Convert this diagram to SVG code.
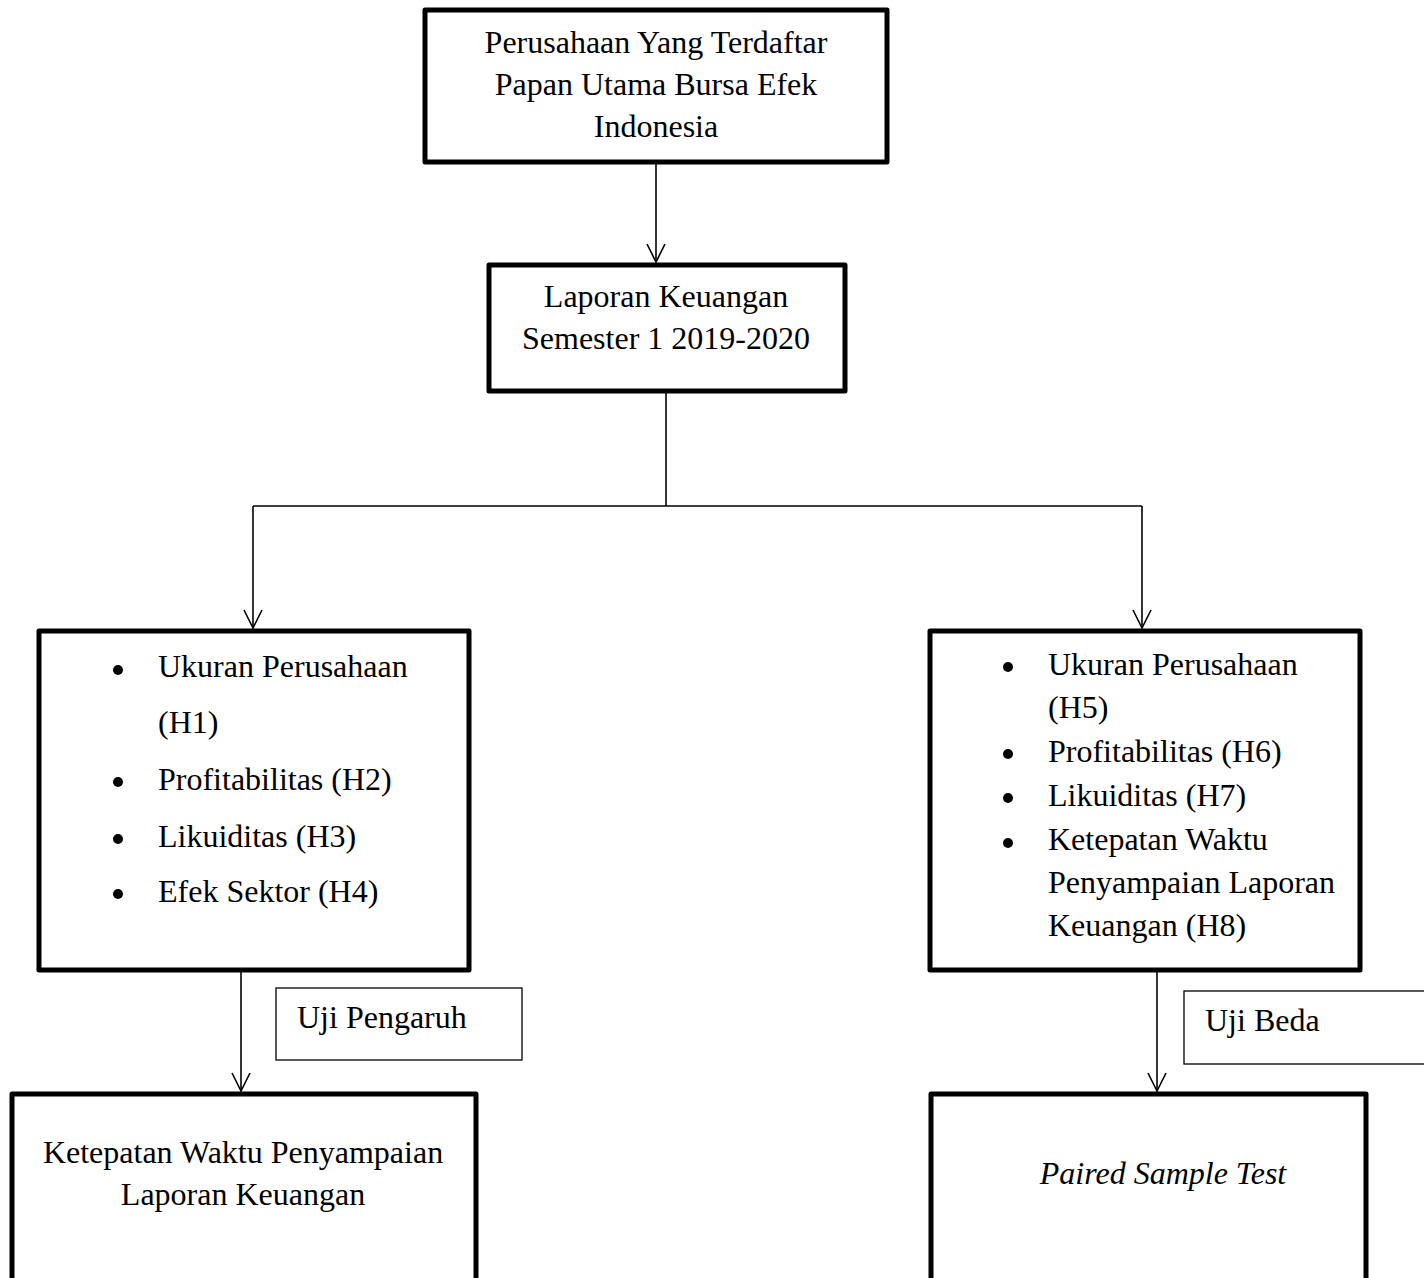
<svg xmlns="http://www.w3.org/2000/svg" width="1424" height="1278" viewBox="0 0 1424 1278">
<style>
.box{fill:#fff;stroke:#000;stroke-width:5;stroke-linejoin:round}
.lbl{fill:#fff;stroke:#000;stroke-width:1.3}
.t{font-family:"Liberation Serif","Times New Roman",serif;font-size:32px;fill:#000}
.c{text-anchor:middle}
.i{font-style:italic}
.con{fill:none;stroke:#000;stroke-width:1.6}
</style>
<defs>
<marker id="arr" markerUnits="userSpaceOnUse" markerWidth="24" markerHeight="24" viewBox="-20 -12 24 24" refX="0" refY="0" orient="auto">
<path d="M-18,-9 L0,0 L-18,9" fill="none" stroke="#000" stroke-width="1.6"/>
</marker>
</defs>
<rect width="1424" height="1278" fill="#fff"/>
<g id="connectors">
<line class="con" x1="656" y1="163" x2="656" y2="262" marker-end="url(#arr)"/>
<polyline class="con" points="666,391 666,506"/>
<line class="con" x1="253" y1="506" x2="1142" y2="506"/>
<line class="con" x1="253" y1="506" x2="253" y2="628" marker-end="url(#arr)"/>
<line class="con" x1="1142" y1="506" x2="1142" y2="628" marker-end="url(#arr)"/>
<line class="con" x1="241" y1="971" x2="241" y2="1091" marker-end="url(#arr)"/>
<line class="con" x1="1157" y1="971" x2="1157" y2="1091" marker-end="url(#arr)"/>
</g>
<g id="node-perusahaan">
<rect class="box" x="425" y="10" width="462" height="152"/>
<text class="t c" x="656" y="53">Perusahaan Yang Terdaftar</text>
<text class="t c" x="656" y="95">Papan Utama Bursa Efek</text>
<text class="t c" x="656" y="137">Indonesia</text>
</g>
<g id="node-laporan">
<rect class="box" x="489" y="265" width="356" height="126"/>
<text class="t c" x="666" y="307">Laporan Keuangan</text>
<text class="t c" x="666" y="349">Semester 1 2019-2020</text>
</g>
<g id="node-left-vars">
<rect class="box" x="39" y="631" width="430" height="339"/>
<circle cx="118" cy="670" r="5"/>
<circle cx="118" cy="782" r="5"/>
<circle cx="118" cy="839" r="5"/>
<circle cx="118" cy="894" r="5"/>
<text class="t" x="158" y="677">Ukuran Perusahaan</text>
<text class="t" x="158" y="733">(H1)</text>
<text class="t" x="158" y="790">Profitabilitas (H2)</text>
<text class="t" x="158" y="847">Likuiditas (H3)</text>
<text class="t" x="158" y="902">Efek Sektor (H4)</text>
</g>
<g id="node-right-vars">
<rect class="box" x="930" y="631" width="430" height="339"/>
<circle cx="1008" cy="667" r="5"/>
<circle cx="1008" cy="754" r="5"/>
<circle cx="1008" cy="798" r="5"/>
<circle cx="1008" cy="843" r="5"/>
<text class="t" x="1048" y="675">Ukuran Perusahaan</text>
<text class="t" x="1048" y="718">(H5)</text>
<text class="t" x="1048" y="762">Profitabilitas (H6)</text>
<text class="t" x="1048" y="806">Likuiditas (H7)</text>
<text class="t" x="1048" y="850">Ketepatan Waktu</text>
<text class="t" x="1048" y="893">Penyampaian Laporan</text>
<text class="t" x="1048" y="936">Keuangan (H8)</text>
</g>
<g id="label-uji-pengaruh">
<rect class="lbl" x="276" y="988" width="246" height="72"/>
<text class="t" x="297" y="1028">Uji Pengaruh</text>
</g>
<g id="label-uji-beda">
<rect class="lbl" x="1184" y="991" width="250" height="73"/>
<text class="t" x="1205" y="1031">Uji Beda</text>
</g>
<g id="node-ketepatan">
<rect class="box" x="12" y="1094" width="464" height="200"/>
<text class="t c" x="243" y="1163">Ketepatan Waktu Penyampaian</text>
<text class="t c" x="243" y="1205">Laporan Keuangan</text>
</g>
<g id="node-paired">
<rect class="box" x="931" y="1094" width="435" height="200"/>
<text class="t c i" x="1163" y="1184">Paired Sample Test</text>
</g>
</svg>
